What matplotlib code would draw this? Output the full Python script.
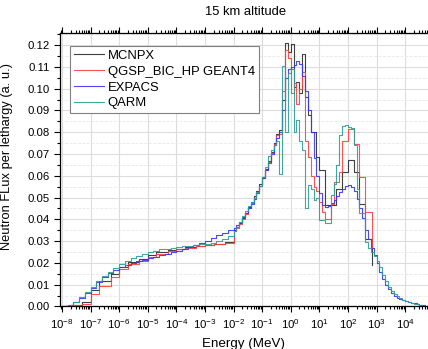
import numpy as np
import matplotlib
matplotlib.use("Agg")
import matplotlib.pyplot as plt
from matplotlib.ticker import LogLocator, MultipleLocator, NullFormatter

plt.rcParams['font.family'] = ['Liberation Sans', 'DejaVu Sans']

######### DATA #########
# coarse 1-2-5 bins used by MCNPX / GEANT4 below 10 keV
coarse_edges = [1e-8, 2e-8, 5e-8, 1e-7, 2e-7, 5e-7, 1e-6, 2e-6, 5e-6, 1e-5,
                2e-5, 5e-5, 1e-4, 2e-4, 5e-4, 1e-3, 2e-3, 5e-3]

mcnpx_lo = [0.0002, 0.0007, 0.0022, 0.0074, 0.0115, 0.0147, 0.0181, 0.0204, 0.0219, 0.0238,
            0.0250, 0.0258, 0.0265, 0.0272, 0.0278, 0.0284, 0.0288, 0.0296]
# log10 bins of 0.1 from -2.0 to 0.9
mcnpx_mid = [0.0350, 0.0365, 0.0385, 0.0405, 0.0430, 0.0455, 0.0480, 0.0505, 0.0530, 0.0560,
             0.0595, 0.0630, 0.0670, 0.0710, 0.0750, 0.0790, 0.0810, 0.0950, 0.1210, 0.1170,
             0.1205, 0.1010, 0.1030, 0.0980, 0.1160, 0.0960, 0.0880, 0.0800, 0.0800, 0.0686]
mcnpx_hi_edges = [1.0, 1.2, 1.4, 1.6, 1.8, 2.0, 2.2, 2.4, 2.6, 2.83]
mcnpx_hi = [0.0625, 0.0464, 0.0464, 0.0540, 0.0617, 0.0674, 0.0617, 0.0470, 0.0310, 0.019]

g4_lo = [0.0002, 0.0005, 0.0012, 0.0058, 0.0095, 0.0135, 0.0172, 0.0196, 0.0210, 0.0227,
         0.0242, 0.0254, 0.0262, 0.0270, 0.0277, 0.0283, 0.0287, 0.0292]
# log10 bins of 0.1 from -2.0 to 2.7
g4_mid = [0.0345, 0.0360, 0.0380, 0.0400, 0.0425, 0.0450, 0.0475, 0.0500, 0.0525, 0.0555,
          0.0590, 0.0625, 0.0665, 0.0705, 0.0745, 0.0785, 0.0790, 0.0990, 0.1177, 0.1140,
          0.0980, 0.1024, 0.0930, 0.1000, 0.1077, 0.0760, 0.0687, 0.0600, 0.0550, 0.0530,
          0.0480, 0.0434, 0.0403, 0.0403, 0.0470, 0.0570, 0.0570, 0.0617, 0.0760, 0.0760,
          0.0817, 0.0817, 0.0748, 0.0748, 0.0595, 0.0595, 0.0434, 0.0434]
g4_end = (2.83, 0.027)

# log10 bins of 0.2 from -8.0 to -2.2
expacs_lo = [0.0002, 0.0008, 0.0022, 0.0040, 0.0062, 0.0085, 0.0110, 0.0133, 0.0152, 0.0168,
             0.0182, 0.0192, 0.0200, 0.0207, 0.0214, 0.0221, 0.0228, 0.0235, 0.0242, 0.0249,
             0.0256, 0.0264, 0.0272, 0.0281, 0.0292, 0.0302, 0.0314, 0.0326, 0.0338, 0.0350]
# log10 bins of 0.1 from -2.0 to 4.7
expacs_hi = [0.0360, 0.0372, 0.0390, 0.0410, 0.0430, 0.0450, 0.0470, 0.0492, 0.0520, 0.0555,
             0.0590, 0.0625, 0.0660, 0.0700, 0.0740, 0.0775, 0.0800, 0.0900, 0.1050, 0.1090,
             0.1100, 0.1110, 0.1125, 0.1115, 0.1060, 0.0990, 0.0900, 0.0800, 0.0680, 0.0600,
             0.0520, 0.0465, 0.0457, 0.0462, 0.0475, 0.0490, 0.0508, 0.0526, 0.0540, 0.0552,
             0.0556, 0.0550, 0.0530, 0.0495, 0.0450, 0.0405, 0.0350, 0.0310, 0.0270, 0.0235,
             0.0200, 0.0160, 0.0125, 0.0098, 0.0078, 0.0060, 0.0047, 0.0040, 0.0034, 0.0029,
             0.0025, 0.0021, 0.0017, 0.0014, 0.0011, 0.0008, 0.0006, 0.0004]

qarm_lo = [0.0002, 0.0008, 0.0022, 0.0042, 0.0065, 0.0090, 0.0115, 0.0140, 0.0160, 0.0178,
           0.0195, 0.0208, 0.0222, 0.0230, 0.0240, 0.0250, 0.0256, 0.0262, 0.0266, 0.0270,
           0.0273, 0.0276, 0.0279, 0.0282, 0.0285, 0.0288, 0.0292, 0.0300, 0.0310, 0.0322]
# log10 bins of 0.1 from -2.0 to 4.5
qarm_hi = [0.0345, 0.0365, 0.0390, 0.0415, 0.0440, 0.0460, 0.0480, 0.0500, 0.0525, 0.0555,
           0.0595, 0.0640, 0.0690, 0.0720, 0.0740, 0.0760, 0.0610, 0.1105, 0.0800, 0.1070,
           0.1090, 0.0800, 0.0855, 0.0760, 0.0720, 0.0450, 0.0556, 0.0540, 0.0490, 0.0500,
           0.0395, 0.0395, 0.0385, 0.0385, 0.0510, 0.0560, 0.0650, 0.0786, 0.0830, 0.0835,
           0.0825, 0.0820, 0.0740, 0.0540, 0.0430, 0.0430, 0.0296, 0.0270, 0.0250, 0.0230,
           0.0210, 0.0180, 0.0145, 0.0115, 0.0090, 0.0072, 0.0058, 0.0047, 0.0038, 0.0031,
           0.0025, 0.0020, 0.0016, 0.0013, 0.0010, 0.0007]

labels = ['MCNPX', 'QGSP_BIC_HP GEANT4', 'EXPACS', 'QARM']
colors = ['#2b2b2b', '#ff4040', '#3535ff', '#2e9c98']


def lin_bins(start, n, step):
    # log10 bin left edges
    return list(np.round(start + step * np.arange(n), 2))


def series(edges_log, vals, end_log, end_val=None):
    e = list(edges_log) + [end_log]
    v = list(vals) + [vals[-1] if end_val is None else end_val]
    return 10.0 ** np.array(e), np.array(v)


lc = list(np.log10(coarse_edges))
x_mc, y_mc = series(lc + lin_bins(-2.0, 30, 0.1) + mcnpx_hi_edges[:-1],
                    mcnpx_lo + mcnpx_mid + mcnpx_hi[:-1], mcnpx_hi_edges[-1], mcnpx_hi[-1])
x_g4, y_g4 = series(lc + lin_bins(-2.0, 48, 0.1), g4_lo + g4_mid, g4_end[0], g4_end[1])
x_ex, y_ex = series(lin_bins(-8.0, 30, 0.2) + lin_bins(-2.0, 68, 0.1),
                    expacs_lo + expacs_hi, 4.8)
x_qa, y_qa = series(lin_bins(-8.0, 30, 0.2) + lin_bins(-2.0, 66, 0.1),
                    qarm_lo + qarm_hi, 4.6)

######### PLOT #########
fig = plt.figure(figsize=(4.28, 3.49), dpi=100)
ax = fig.add_axes([0.140, 0.122, 0.86, 0.783])

for (x, y), lab, c in zip([(x_mc, y_mc), (x_g4, y_g4), (x_ex, y_ex), (x_qa, y_qa)], labels, colors):
    ax.step(x, y, where='post', color=c, lw=0.8, label=lab, alpha=0.9)

ax.set_xscale('log')
ax.set_xlim(8.5e-9, 6.3e4)
ax.set_ylim(0, 0.1255)

ax.xaxis.set_major_locator(LogLocator(base=10, numticks=20))
ax.xaxis.set_minor_locator(LogLocator(base=10, subs=np.arange(2, 10), numticks=200))
ax.xaxis.set_minor_formatter(NullFormatter())
ax.yaxis.set_major_locator(MultipleLocator(0.01))
ax.yaxis.set_minor_locator(MultipleLocator(0.005))
ax.yaxis.set_major_formatter(plt.FormatStrFormatter('%.2f'))

ax.grid(which='major', color='#dcdcdc', lw=0.8)
ax.grid(which='minor', axis='y', color='#e8e8e8', lw=0.6, ls='--')
ax.set_axisbelow(True)

ax.spines['right'].set_visible(False)
for s in ['left', 'bottom', 'top']:
    ax.spines[s].set_linewidth(0.9)
ax.tick_params(which='both', direction='out', top=True, labeltop=False,
               right=False, labelsize=8.2, width=0.8)
ax.tick_params(which='major', length=4)
ax.tick_params(which='minor', length=2.2)

ax.set_xlabel('Energy (MeV)', fontsize=9.6, labelpad=5)
ax.set_ylabel('Neutron FLux per lethargy (a. u.)', fontsize=9.3)
ax.yaxis.set_label_coords(-0.128, 0.55)
fig.text(0.573, 0.965, '15 km altitude', ha='center', va='center', fontsize=9.4)

leg = ax.legend(loc='upper left', bbox_to_anchor=(0.027, 0.953), borderaxespad=0,
                fontsize=9.4, handlelength=2.3, handletextpad=0.3, labelspacing=0.28,
                fancybox=False, framealpha=1, edgecolor='#808080', borderpad=0.3)
leg.get_frame().set_linewidth(0.8)

fig.savefig('out.png', dpi=100)
